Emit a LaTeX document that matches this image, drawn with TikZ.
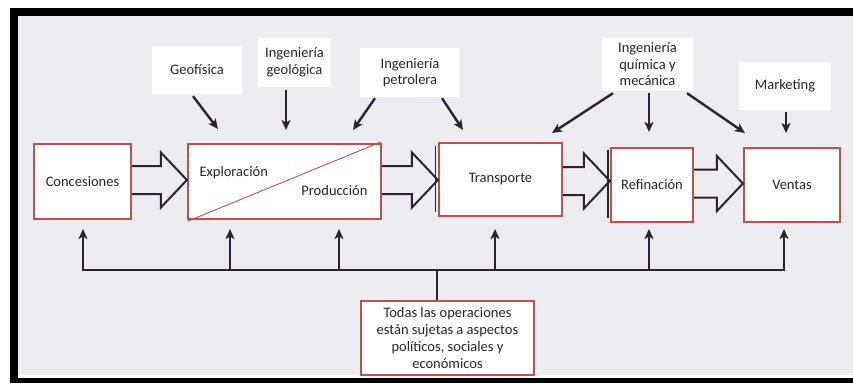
\documentclass[tikz,border=0pt]{standalone}
\usepackage{fontspec}
\setmainfont{Carlito}
\usetikzlibrary{arrows.meta,calc}
\definecolor{boxred}{HTML}{C0504D}
\definecolor{ink}{HTML}{2A2430}
\definecolor{paper}{HTML}{EDECF1}
\newcommand\blkarr[3]{%
  \draw[blk] let \p1=(#1.east), \p2=(#2.west) in
    (\x1,-#3pt+14pt) -- (\x2-26pt,-#3pt+14pt) -- (\x2-26pt,-#3pt+27.5pt)
    -- (\x2,-#3pt) -- (\x2-26pt,-#3pt-27.5pt) -- (\x2-26pt,-#3pt-14pt)
    -- (\x1,-#3pt-14pt);}
\begin{document}
\begin{tikzpicture}[x=1pt,y=-1pt,
  txt/.style={font=\fontsize{14.5}{16.5}\selectfont, text=black!85},
  redbox/.style={txt, draw=boxred, line width=2.2pt, fill=white, inner sep=0pt, align=center},
  lab/.style={txt, fill=white, inner sep=0pt, align=center},
  arr/.style={draw=ink, line width=2.4pt, -{Stealth[length=10pt,width=9pt,inset=2.5pt]}},
  bus/.style={draw=ink, line width=2.4pt},
  blk/.style={draw=ink, line width=2pt, line join=miter, miter limit=4}]
% frame
\fill[white] (0,0) rectangle (853,383);
\useasboundingbox (0,0) rectangle (853,383);
\fill[black] (10,8) rectangle (853,383);
\fill[paper] (18,16) rectangle (853,375);
\fill[white] (18,375) rectangle (853,378);
% main boxes
\node[redbox, minimum width=97pt, minimum height=75pt] (conc) at (82.5,181.5) {Concesiones};
\node[redbox, minimum width=193pt, minimum height=75pt] (expl) at (284.5,181.5) {};
\node[redbox, minimum width=123pt, minimum height=73pt] (trans) at (500.5,179.5) {Transporte};
\node[redbox, minimum width=82pt, minimum height=74pt] (ref) at (652,185) {Refinación};
\node[redbox, minimum width=96pt, minimum height=74pt] (vent) at (792,185) {Ventas};
\node[redbox, minimum width=173pt, minimum height=74pt, font=\fontsize{14.5}{17.3}\selectfont] (todas) at (447.5,338) {Todas las operaciones\\están sujetas a aspectos\\políticos, sociales y\\económicos};
\draw[boxred, line width=0.9pt] ([shift={(1pt,-1pt)}]expl.south west) -- ([shift={(-1pt,1pt)}]expl.north east);
\node[txt, anchor=west] (exptxt) at (196,173) {Exploración};
\node[txt, anchor=east] (prodtxt) at (371,191) {Producción};
% thin marks left of boxes
\draw[ink, line width=1.1pt] (435.5,146) -- (435.5,212);
\draw[ink, line width=1.1pt] (608,150) -- (608,218);
% block arrows
\blkarr{conc}{expl}{180}
\blkarr{expl}{trans}{180}
\blkarr{trans}{ref}{181}
\blkarr{ref}{vent}{183.5}
% top labels
\node[lab, minimum width=90pt, minimum height=48pt] (geo) at (197,70) {Geofísica};
\node[lab, minimum width=73pt, minimum height=49pt] (geol) at (294.5,62.5) {Ingeniería\\geológica};
\node[lab, minimum width=100pt, minimum height=49pt] (petro) at (410,72.5) {Ingeniería\\petrolera};
\node[lab, minimum width=91pt, minimum height=53pt] (quim) at (647.5,64.5) {Ingeniería\\química y\\mecánica};
\node[lab, minimum width=92pt, minimum height=48pt] (mkt) at (785,86) {Marketing};
% top arrows
\coordinate (tGeo) at (218,129);
\coordinate (tGeol) at (286,130);
\coordinate (tPetA) at (353,130);
\coordinate (tPetB) at (463,130);
\coordinate (tQuA) at (552,133);
\coordinate (tQuB) at (649,132);
\coordinate (tQuC) at (745,133);
\coordinate (tMkt) at (786,133);
\draw[arr] ([shift={(-4pt,-2pt)}]geo.south) -- (tGeo);
\draw[arr] ([shift={(-8.5pt,-3pt)}]geol.south) -- (tGeol);
\draw[arr] ([shift={(-35pt,-1pt)}]petro.south) -- (tPetA);
\draw[arr] ([shift={(32pt,-1pt)}]petro.south) -- (tPetB);
\draw[arr] ([shift={(-34.5pt,-2pt)}]quim.south) -- (tQuA);
\draw[arr] ([shift={(1.5pt,-2pt)}]quim.south) -- (tQuB);
\draw[arr] ([shift={(39.5pt,-2pt)}]quim.south) -- (tQuC);
\draw[arr] ([shift={(1pt,-2pt)}]mkt.south) -- (tMkt);
% bottom bus
\coordinate (bl) at (83,270);
\coordinate (br) at (784,270);
\coordinate (bstem) at (437,270);
\draw[bus, line cap=rect] (bl) -- (br);
\draw[bus] ([xshift=-10.5pt]todas.north) -- (bstem);
\foreach \bx in {83,230,339,495,649,784}
  \draw[arr] (\bx,270) -- (\bx,229);
\end{tikzpicture}
\end{document}
